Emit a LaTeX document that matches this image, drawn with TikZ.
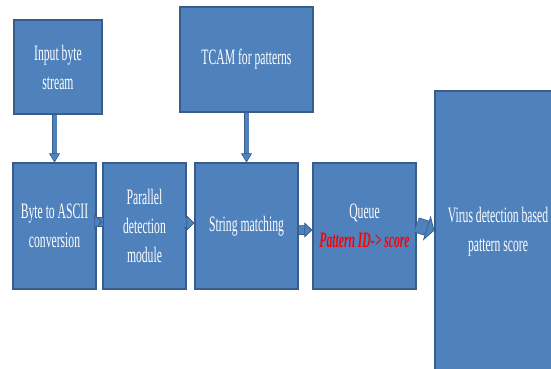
\documentclass[tikz,border=0pt]{standalone}
\usepackage{fontspec}
\usepackage{xcolor}
\usepackage{tikz}
\usetikzlibrary{positioning,calc,arrows.meta,shapes}
\newfontfamily\boxfont[FakeStretch=0.53]{Liberation Serif}
\definecolor{boxblue}{HTML}{4F81BD}
\definecolor{boxedge}{HTML}{385D8A}
\tikzset{blockbox/.style={draw=boxedge, line width=1.2pt, fill=boxblue, text=white, align=center, inner sep=0pt,
	font=\boxfont\fontsize{22}{29}\selectfont}}
\tikzset{fatarr/.style args={#1/#2}{draw=boxedge, line width=0.8pt, double=boxblue, double distance=#1,
	-{Triangle[length=8pt, width=#2, fill=boxblue, line width=0.8pt]}}}
\tikzset{downarr/.style={draw=boxedge, line width=0.6pt, double=boxblue, double distance=4pt,
	-{Triangle[length=9pt, width=11pt, fill=boxblue, line width=0.6pt]}}}

\begin{document}
\begin{tikzpicture}[x=1pt,y=1pt]
\useasboundingbox (0,0) rectangle (551,369);
\begin{scope}[every node/.style={blockbox}]
	\node[minimum width=88pt, minimum height=94pt] at (58, 302) (inp) {Input byte\\stream};
	\node[minimum width=133pt, minimum height=105pt] at (246.5, 309.5) (tcam) {TCAM for patterns};
	\node[minimum width=83pt, minimum height=126pt] at (54.5, 143) (byte) {Byte to ASCII\\conversion};
	\node[minimum width=83pt, minimum height=126pt] at (144.5, 143) (par) {Parallel\\detection\\module};
	\node[minimum width=103pt, minimum height=126pt] at (246.5, 143) (str) {String matching};
	\node[minimum width=103pt, minimum height=126pt] at (364.5, 143) (queue) {Queue\\
		\textcolor{red}{\bfseries\itshape Pattern ID-> score}};
	\node[minimum width=126pt, minimum height=281pt] at (498, 137.5) (virus) {Virus detection based\\pattern score};
\end{scope}
	\draw[downarr] (inp.south -| byte.north) -- (byte.north);
	\draw[downarr] (tcam.south) -- (str.north);
	\draw[fatarr={8pt/15pt}, shorten <=-6pt] ([yshift=4pt]byte.east) -- ([yshift=4pt]par.west);
	\draw[fatarr={9pt/16pt}, shorten <=-3pt] ([yshift=3pt]par.east) -- ([yshift=3pt]str.west);
	\draw[fatarr={9pt/15pt}] ([yshift=-4pt]str.east) -- ([yshift=-4pt]queue.west);
	\draw[fatarr={14pt/26pt}] ([yshift=1pt]queue.east) -- ([yshift=1pt]virus.west);
\end{tikzpicture}
\end{document}
